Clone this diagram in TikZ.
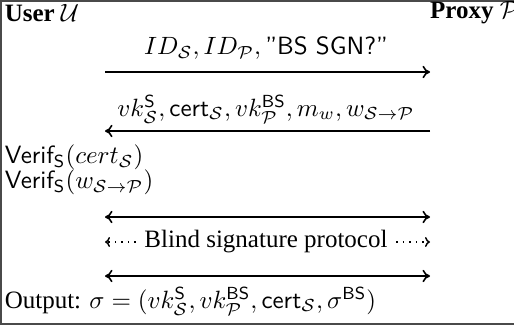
\documentclass[tikz,border=0pt]{standalone}
\usepackage{amsmath,amssymb}
\usepackage{fontspec}
\setmainfont{Liberation Serif}
\usetikzlibrary{arrows.meta,positioning}
\definecolor{rule}{HTML}{4A4A4A}

\begin{document}
\begin{tikzpicture}[x=0.4pt,y=-0.4pt,
  party/.style={inner sep=0.5pt,font=\bfseries},
  txt/.style={inner sep=0.5pt,anchor=west},
  msg/.style={-{Computer Modern Rightarrow[length=3pt,width=5pt]},line width=0.65pt},
  both/.style={{Computer Modern Rightarrow[length=3pt,width=5pt]}-{Computer Modern Rightarrow[length=3pt,width=5pt]},line width=0.65pt},
  dotarr/.style={-{Computer Modern Rightarrow[length=2pt,width=4pt]},dotted,line width=0.6pt}]
\useasboundingbox (0,0) rectangle (514,327);
\draw[rule,line width=0.5pt] (520,1) -| (1,324) -- (520,324);
\node[party,anchor=west] (user) at (3,13) {User $\mathcal{U}$};
\node[party,anchor=east] (proxy) at (521,13) {Proxy $\mathcal{P}$};
\coordinate (m1l) at (105,72);
\coordinate (m1r) at (430,72);
\node (m1) at (266,48) {$ID_{\mathcal{S}}, ID_{\mathcal{P}}, \text{\textsf{"BS SGN?"}}$};
\draw[msg] (m1l) -- (m1r);
\coordinate (m2l) at (105,131);
\coordinate (m2r) at (430,131);
\node (m2) at (266,109) {$vk^{\textsf{S}}_{\mathcal{S}}, \textsf{cert}_{\mathcal{S}}, vk^{\textsf{BS}}_{\mathcal{P}}, m_w, w_{\mathcal{S}\to\mathcal{P}}$};
\draw[msg] (m2r) -- (m2l);
\node[txt] (ver1) at (3,157) {$\textsf{Verif}_{\textsf{S}}(cert_{\mathcal{S}})$};
\node[txt] (ver2) at (3,182) {$\textsf{Verif}_{\textsf{S}}(w_{\mathcal{S}\to\mathcal{P}})$};
\coordinate (b1l) at (105,217);
\coordinate (b1r) at (430,217);
\draw[both] (b1l) -- (b1r);
\node (bsp) at (266,242) {Blind signature protocol};
\coordinate (bpl) at (105,242);
\coordinate (bpr) at (430,242);
\draw[dotarr] (bsp.west) -- (bpl);
\draw[dotarr] (bsp.east) -- (bpr);
\coordinate (b2l) at (105,276);
\coordinate (b2r) at (430,276);
\draw[both] (b2l) -- (b2r);
\node[txt] (out) at (3,301) {Output: $\sigma = (vk^{\textsf{S}}_{\mathcal{S}}, vk^{\textsf{BS}}_{\mathcal{P}}, \textsf{cert}_{\mathcal{S}}, \sigma^{\textsf{BS}})$};
\end{tikzpicture}
\end{document}
